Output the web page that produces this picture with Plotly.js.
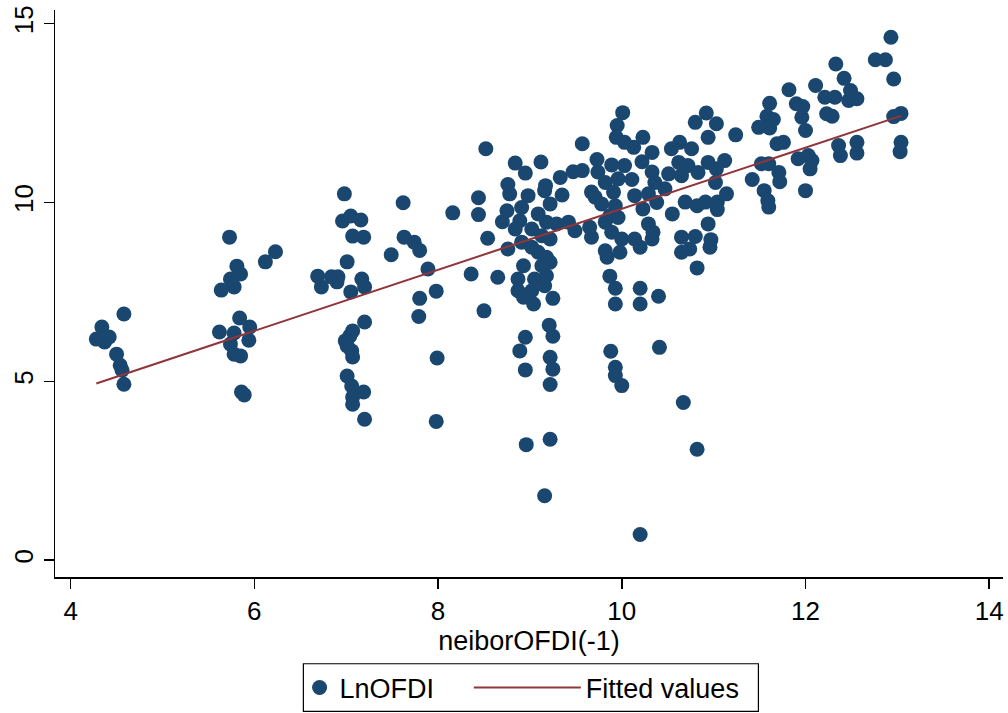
<!DOCTYPE html>
<html>
<head>
<meta charset="utf-8">
<script src="https://cdn.plot.ly/plotly-3.0.1.min.js"></script>
<style>html,body{margin:0;padding:0;background:#fff}#chart{width:1008px;height:713px}</style>
</head>
<body>
<div id="chart"></div>
<script>
// neiborOFDI(-1) values (x) and LnOFDI values (y)
const neiborOFDI = [
4.28,4.34,4.37,4.42,4.58,4.50,4.54,4.56,4.58,
5.73,5.81,5.85,5.74,5.78,5.64,5.84,5.62,5.78,5.95,5.94,5.74,5.78,5.85,5.86,5.89,6.12,6.23,
6.98,6.96,7.05,7.16,7.07,7.19,7.01,6.69,6.73,6.84,6.91,6.90,7.17,7.20,7.05,7.20,7.07,7.04,6.99,7.01,7.06,7.07,7.01,7.06,7.19,7.07,7.07,7.20,
7.62,7.63,7.74,7.80,7.49,7.89,7.98,7.80,7.79,7.99,7.98,8.16,8.36,8.44,8.44,8.52,8.50,8.54,8.65,
8.84,8.95,9.12,8.76,8.78,8.98,9.16,9.35,9.17,9.33,9.47,9.57,9.57,8.75,8.70,8.91,8.89,9.09,9.22,9.18,9.29,
8.84,9.02,9.13,9.22,8.76,8.91,9.02,9.09,9.18,9.22,8.93,9.13,9.18,8.87,9.05,9.16,8.87,9.02,8.93,9.04,9.25,
9.21,9.25,8.95,8.89,9.22,9.25,8.95,9.22,8.96,9.22,9.16,
10.01,9.95,9.94,10.03,10.13,10.23,10.33,10.54,10.63,9.73,9.89,10.03,10.22,10.33,10.51,10.62,9.74,9.96,10.11,9.82,10.36,10.47,
9.67,9.71,9.78,9.93,9.91,10.14,10.29,10.38,10.23,10.55,9.42,9.49,9.65,9.67,9.82,9.89,10.00,9.87,9.96,9.82,9.84,9.98,10.14,10.20,10.29,10.34,10.33,10.65,10.65,
9.87,9.93,9.93,10.20,10.20,10.40,9.88,9.93,9.93,10.00,10.41,10.67,10.82,10.20,
12.93,12.76,12.87,12.33,12.42,12.96,11.82,12.11,12.49,12.21,12.32,12.47,12.56,11.90,11.97,11.61,12.23,12.29,11.96,11.58,11.65,11.49,11.61,12.00,12.96,13.04,
11.24,10.92,10.80,11.03,10.94,11.69,11.76,12.36,12.38,12.56,12.56,13.04,13.03,11.92,12.03,12.07,12.05,11.52,11.60,11.71,11.72,11.42,11.12,11.02,10.76,10.72,10.83,10.94,11.03,10.65,
11.55,11.59,11.60,12.00,10.69,10.82,10.91,11.04,11.04,11.14,10.94,10.80,10.74,10.97,10.96,10.82
];
const LnOFDI = [
6.18,6.52,6.10,6.24,6.88,5.76,5.45,5.31,4.92,
9.03,8.22,8.00,7.86,7.64,7.55,6.77,6.38,6.35,6.52,6.15,6.04,5.76,5.71,4.70,4.62,8.34,8.62,
10.24,9.48,9.62,9.51,9.06,9.03,8.34,7.94,7.64,7.92,7.92,7.78,7.86,7.64,7.50,6.66,6.41,6.27,6.13,5.99,5.85,5.68,5.15,4.87,4.70,4.56,4.36,3.94,
9.99,9.03,8.89,8.66,8.54,8.14,7.52,7.32,6.81,5.65,3.88,9.71,8.00,10.13,9.66,11.50,6.97,9.00,7.91,
11.10,10.82,11.13,10.50,10.24,10.19,10.33,10.21,10.47,10.70,10.86,10.89,11.64,9.77,9.46,9.86,9.49,9.68,9.96,9.45,9.40,
9.26,9.26,9.07,8.98,8.70,8.89,8.75,8.61,8.47,8.33,8.23,8.23,7.95,7.86,7.86,7.67,7.53,7.53,7.35,7.16,7.32,
6.57,6.26,6.23,5.85,5.67,5.34,5.32,4.91,3.23,3.38,1.80,
12.51,12.15,11.82,11.68,11.54,11.82,11.40,11.50,11.68,11.20,11.05,11.03,11.14,10.85,10.80,11.12,10.85,10.66,10.64,10.56,10.56,10.38,
10.29,10.15,9.96,9.91,10.29,10.19,10.24,10.00,9.82,9.68,9.45,9.21,9.31,9.03,9.45,9.17,8.98,9.63,9.58,8.65,8.47,8.61,8.98,8.75,9.40,9.17,8.98,9.03,8.61,
7.94,7.60,7.16,7.60,7.16,7.38,5.84,5.39,5.16,4.88,5.95,4.41,3.10,0.72,
14.62,13.99,13.99,13.87,13.47,13.45,13.15,13.27,13.13,12.94,12.94,12.85,12.90,12.76,12.68,12.77,12.48,12.41,12.38,12.41,12.32,12.10,12.08,12.01,12.40,12.49,
11.89,12.50,12.24,12.20,11.82,11.64,11.68,11.59,11.31,11.68,11.38,11.68,11.42,11.22,11.31,11.17,10.94,11.08,11.08,10.84,10.58,10.64,11.17,10.56,11.50,11.03,10.84,11.12,10.94,10.75,
10.33,10.05,9.87,10.33,10.01,9.91,10.01,10.01,9.80,10.24,9.40,9.05,8.70,8.96,8.75,8.17
];
// Fitted line endpoints
const fitX = [4.28, 13.04];
const fitY = [4.94, 12.42];
const xTicks = [4, 6, 8, 10, 12, 14];
const yTicks = [0, 5, 10, 15];

const FONT = '"Liberation Sans", Arial, sans-serif';
const traces = [
  {type:'scatter', mode:'markers', x:neiborOFDI, y:LnOFDI, name:'LnOFDI', legend:'legend',
   marker:{color:'#1a476f', size:15, line:{width:0}}},
  {type:'scatter', mode:'lines', x:fitX, y:fitY, name:'Fitted values', legend:'legend2',
   line:{color:'#90353b', width:2}}
];
const legBase = {orientation:'h', xref:'paper', yref:'container', xanchor:'left', y:0.0694, yanchor:'top',
  borderwidth:0, bgcolor:'rgba(0,0,0,0)', font:{size:27, family:FONT, color:'#000'}};
const layout = {
  width:1008, height:713,
  paper_bgcolor:'#fff', plot_bgcolor:'#fff',
  margin:{l:55, r:5, t:10, b:136, autoexpand:false},
  font:{family:FONT, size:26, color:'#000'},
  showlegend:true,
  xaxis:{range:[3.83,14.15], tickvals:xTicks, ticktext:xTicks.map(String),
    showgrid:false, zeroline:false, showline:true, linecolor:'#000', linewidth:1.5,
    ticks:'outside', ticklen:10, tickwidth:1.5, tickcolor:'#000',
    tickfont:{size:26, family:FONT}, automargin:false,
    title:{text:'neiborOFDI(-1)', font:{size:27, family:FONT}, standoff:4}},
  yaxis:{range:[-0.47,15.38], tickvals:yTicks, ticktext:yTicks.map(String),
    showgrid:false, zeroline:false, showline:true, linecolor:'#000', linewidth:1.5,
    ticks:'outside', ticklen:10, tickwidth:1.5, tickcolor:'#000', tickangle:-90,
    tickfont:{size:26, family:FONT}, automargin:false},
  legend:Object.assign({}, legBase, {x:0.258, itemwidth:30}),
  legend2:Object.assign({}, legBase, {x:0.4365, itemwidth:107}),
  shapes:[{type:'rect', xref:'paper', yref:'paper', x0:0.262, x1:0.742, y0:-0.153, y1:-0.237,
    line:{color:'#000', width:1.2}, fillcolor:'rgba(0,0,0,0)'}]
};
Plotly.newPlot('chart', traces, layout, {staticPlot:true});
</script>
</body>
</html>
